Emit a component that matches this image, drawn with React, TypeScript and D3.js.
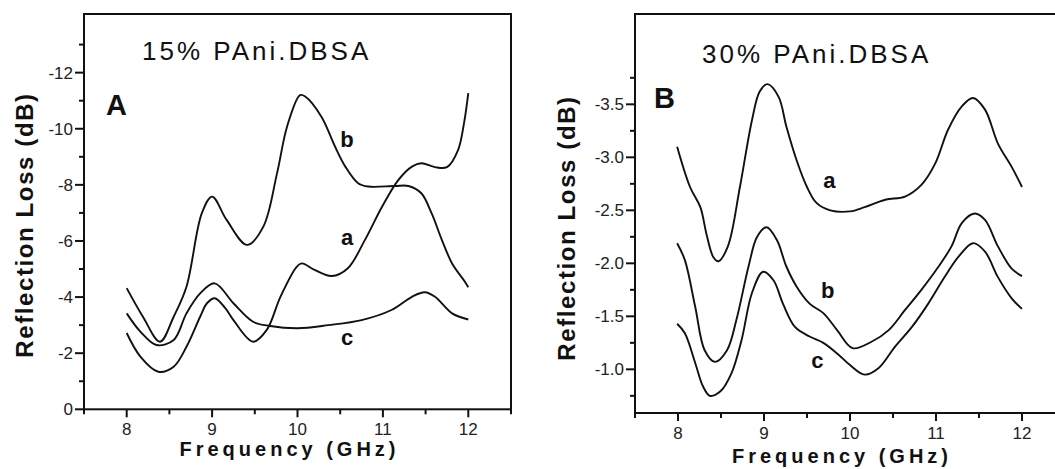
import React from "react";
import * as d3 from "d3";

// [frequency (GHz), |reflection loss| (dB)]
// 15% PAni.DBSA
const rl15a = [[8.0,2.72],[8.16,1.88],[8.37,1.34],[8.55,1.52],[8.7,2.23],[8.86,3.3],[8.94,3.78],[9.03,3.96],[9.15,3.62],[9.25,3.18],[9.48,2.41],[9.64,2.83],[9.8,4.01],[9.99,5.08],[10.05,5.2],[10.2,4.97],[10.4,4.75],[10.59,5.03],[10.79,6.04],[10.99,7.22],[11.18,8.17],[11.34,8.65],[11.45,8.77],[11.61,8.63],[11.75,8.63],[11.88,9.24],[11.95,10.2],[12.0,11.27]];
const rl15b = [[8.0,4.32],[8.19,3.3],[8.39,2.41],[8.55,3.3],[8.7,4.37],[8.88,6.99],[9.0,7.58],[9.17,6.75],[9.41,5.86],[9.6,6.51],[9.76,8.41],[9.88,10.1],[10.03,11.2],[10.09,11.15],[10.28,10.43],[10.44,9.36],[10.56,8.65],[10.71,8.06],[10.83,7.94],[11.14,7.96],[11.3,7.96],[11.45,7.7],[11.57,6.99],[11.69,6.04],[11.81,5.2],[11.96,4.55],[12.0,4.35]];
const rl15c = [[8.0,3.42],[8.16,2.77],[8.35,2.29],[8.55,2.47],[8.7,3.42],[8.86,4.13],[9.03,4.49],[9.25,3.78],[9.48,3.12],[9.68,2.97],[10.0,2.89],[10.36,3.0],[10.75,3.18],[11.1,3.54],[11.34,4.01],[11.49,4.17],[11.61,4.01],[11.81,3.42],[12.0,3.2]];

// 30% PAni.DBSA
const rl30a = [[7.99,3.1],[8.14,2.72],[8.26,2.53],[8.33,2.28],[8.41,2.06],[8.47,2.02],[8.58,2.16],[8.72,2.72],[8.86,3.35],[8.95,3.62],[9.04,3.69],[9.17,3.57],[9.26,3.29],[9.38,2.97],[9.5,2.72],[9.61,2.57],[9.77,2.5],[10.0,2.49],[10.17,2.53],[10.41,2.6],[10.64,2.63],[10.83,2.74],[10.99,2.94],[11.14,3.26],[11.3,3.48],[11.43,3.56],[11.57,3.45],[11.72,3.13],[11.88,2.91],[12.0,2.72]];
const rl30b = [[7.99,2.19],[8.08,2.03],[8.2,1.59],[8.31,1.18],[8.43,1.07],[8.57,1.18],[8.68,1.47],[8.82,1.97],[8.92,2.25],[9.03,2.34],[9.15,2.22],[9.26,1.97],[9.38,1.78],[9.53,1.62],[9.69,1.53],[9.85,1.37],[10.03,1.2],[10.25,1.26],[10.45,1.37],[10.64,1.56],[10.83,1.75],[11.03,1.97],[11.18,2.16],[11.3,2.38],[11.45,2.47],[11.57,2.41],[11.72,2.16],[11.88,1.95],[12.0,1.88]];
const rl30c = [[7.99,1.43],[8.08,1.34],[8.2,1.06],[8.29,0.84],[8.37,0.75],[8.49,0.79],[8.62,0.96],[8.74,1.28],[8.86,1.72],[8.99,1.92],[9.11,1.84],[9.22,1.62],[9.36,1.4],[9.53,1.31],[9.69,1.25],[9.85,1.15],[10.0,1.04],[10.17,0.95],[10.33,1.01],[10.52,1.21],[10.72,1.4],[10.91,1.62],[11.1,1.87],[11.26,2.06],[11.43,2.19],[11.57,2.11],[11.72,1.87],[11.88,1.67],[12.0,1.57]];

// curve labels: [name, frequency, value]
const labels15 = [["b",10.58,9.35],["a",10.58,5.86],["c",10.58,2.29]];
const labels30 = [["a",9.76,2.71],["b",9.74,1.67],["c",9.62,1.01]];

const xTicks = [8, 9, 10, 11, 12];
const xMinor = [7.5, 8.5, 9.5, 10.5, 11.5, 12.5];
const yTicks15 = [0, 2, 4, 6, 8, 10, 12];
const yMinor15 = [1, 3, 5, 7, 9, 11, 13];
const yTicks30 = [1.0, 1.5, 2.0, 2.5, 3.0, 3.5];
const yMinor30 = [0.75, 1.25, 1.75, 2.25, 2.75, 3.25, 3.75];

const FONT = "'Liberation Sans', Arial, Helvetica, sans-serif";

function Panel(props) {
  const { left, right, top, bottom, yDomain, series, labels, title, titleX, titleY,
    letter, letterX, letterY, yTicks, yMinor, fmt, yLabelX, yLabelY, xLabelY, xTickY } = props;
  const x = d3.scaleLinear().domain([7.5, 12.5]).range([left, right]);
  const y = d3.scaleLinear().domain(yDomain).range([bottom, top]);
  const line = d3.line().x((d) => x(d[0])).y((d) => y(d[1])).curve(d3.curveCatmullRom.alpha(0.5));

  return (
    <g fontFamily={FONT}>
      {series.map((s, i) => (
        <path key={i} d={line(s)} fill="none" stroke="#111" strokeWidth={1.9} strokeLinejoin="round" />
      ))}
      <rect x={left} y={top} width={right - left} height={bottom - top} fill="none" stroke="#111" strokeWidth={2} />

      {xTicks.map((t) => (
        <g key={"xt" + t}>
          <line x1={x(t)} x2={x(t)} y1={bottom} y2={bottom + 8} stroke="#111" strokeWidth={2} />
          <text x={x(t)} y={xTickY} textAnchor="middle" fontSize={17} fill="#222">{t}</text>
        </g>
      ))}
      {xMinor.map((t) => (
        <line key={"xm" + t} x1={x(t)} x2={x(t)} y1={bottom} y2={bottom + 5} stroke="#111" strokeWidth={2} />
      ))}
      {yTicks.map((t) => (
        <g key={"yt" + t}>
          <line x1={left - 9} x2={left} y1={y(t)} y2={y(t)} stroke="#111" strokeWidth={2} />
          <text x={left - 11} y={y(t)} dy="0.36em" textAnchor="end" fontSize={17} fill="#222">{fmt(t)}</text>
        </g>
      ))}
      {yMinor.map((t) => (
        <line key={"ym" + t} x1={left - 5} x2={left} y1={y(t)} y2={y(t)} stroke="#111" strokeWidth={2} />
      ))}

      {labels.map((l) => (
        <text key={l[0]} x={x(l[1])} y={y(l[2])} textAnchor="middle" fontSize={22} fontWeight="bold" fill="#111">{l[0]}</text>
      ))}

      <text x={titleX} y={titleY} fontSize={26} fill="#111" style={{ letterSpacing: "3px" }}>{title}</text>
      <text x={letterX} y={letterY} fontSize={29} fontWeight="bold" fill="#111">{letter}</text>

      <text transform={`translate(${yLabelX},${yLabelY}) rotate(-90)`} textAnchor="middle" fontSize={24}
        fontWeight="bold" fill="#111" style={{ letterSpacing: "1.6px" }}>Reflection Loss (dB)</text>
      <text x={(left + right) / 2 - 8} y={xLabelY} textAnchor="middle" fontSize={20} fontWeight="bold" fill="#111"
        style={{ letterSpacing: "4px" }}>Frequency (GHz)</text>
    </g>
  );
}

export default function App() {
  return (
    <svg width={1055} height={469} style={{ position: "absolute", left: 0, top: 0, background: "#fff" }}>
      <Panel left={84} right={511} top={14} bottom={409.3} yDomain={[0, 14.09]}
        series={[rl15a, rl15b, rl15c]} labels={labels15}
        title="15% PAni.DBSA" titleX={142} titleY={60} letter="A" letterX={106} letterY={115}
        yTicks={yTicks15} yMinor={yMinor15} fmt={(d) => (d === 0 ? "0" : "-" + d)}
        yLabelX={33} yLabelY={225} xLabelY={456} xTickY={435} />
      <Panel left={635} right={1065} top={14} bottom={413} yDomain={[0.588, 4.352]}
        series={[rl30a, rl30b, rl30c]} labels={labels30}
        title="30% PAni.DBSA" titleX={702} titleY={63} letter="B" letterX={654} letterY={108}
        yTicks={yTicks30} yMinor={yMinor30} fmt={(d) => "-" + d.toFixed(1)}
        yLabelX={575} yLabelY={228} xLabelY={463} xTickY={439} />
    </svg>
  );
}
